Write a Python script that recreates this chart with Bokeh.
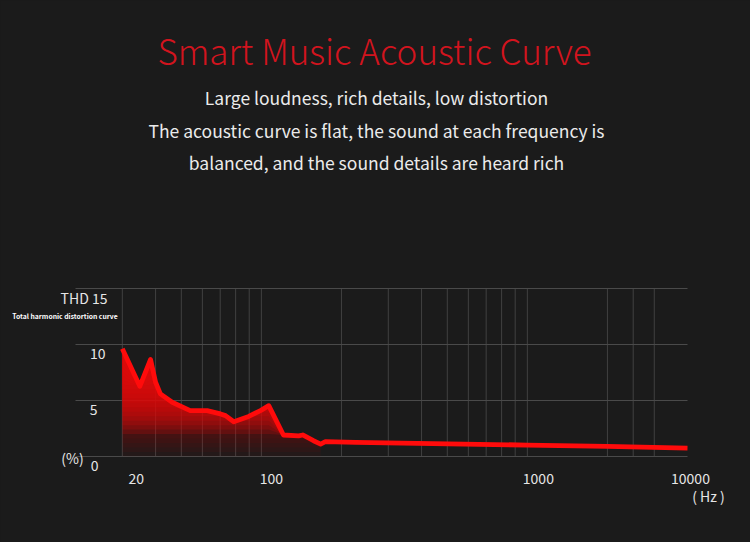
import numpy as np
from bokeh.plotting import figure
from bokeh.models import ColumnDataSource, LabelSet, Label, Range1d
from bokeh.core.properties import value
from bokeh.embed import file_html
from bokeh.resources import INLINE

# ---------------- data ----------------
freq_hz = [30, 34.9, 38.3, 40, 41.7, 46.2, 54, 62.5, 70.2, 73.3, 78.7, 89.6, 99.2,
           106.6, 121, 138, 143, 157, 167, 174, 226, 1000, 2000, 4000]
thd_pct = [9.62, 6.27, 8.66, 6.63, 5.59, 4.84, 4.1, 4.1, 3.8, 3.65, 3.1, 3.58, 4.1,
           4.54, 1.92, 1.85, 1.92, 1.41, 1.11, 1.32, 1.26, 1.02, 0.9, 0.75]

x_grid_hz = [30, 40, 50, 60, 70, 80, 90, 100, 200, 300, 400, 500, 600, 700, 800, 900,
             1000, 2000, 2500, 3000]
x_min_hz, x_max_hz = 20, 4000
y_min, y_max = 0, 15
x_tick_pos = [30, 100, 1000, 4000]
x_tick_labels = ["20", "100", "1000", "10000"]
y_tick_pos = [0, 5, 10, 15]
y_tick_labels = ["0", "5", "10", "THD 15"]

title_text = "Smart Music Acoustic Curve"
subtitle_lines = ["Large loudness, rich details, low distortion",
                  "The acoustic curve is flat, the sound at each frequency is",
                  "balanced, and the sound details are heard rich"]

# ---------------- layout / style ----------------
W, H = 750, 542
PLOT_L, PLOT_R, PLOT_T, PLOT_B = 75, 687, 288, 456   # plot area in page pixels
BG = "#1b1b1b"
GRID = "#4a4a4a"
RED_LINE = "#ff0b0b"
RED_FILL = "#e00808"
TXT = "#e6e6e6"
CJK = "'Noto Sans CJK SC'"
x_label_dx = [14, 10, 11, 3]      # horizontal nudges of the x tick labels (px)
y_label_dx = [23, 22, 30, 32]     # right-edge nudges of the y tick labels (px)

decade_px = (PLOT_R - PLOT_L) / np.log10(x_max_hz / x_min_hz)
unit_px = (PLOT_B - PLOT_T) / (y_max - y_min)
xr = Range1d(x_min_hz * 10 ** (-PLOT_L / decade_px), x_max_hz * 10 ** ((W - PLOT_R) / decade_px))
yr = Range1d(y_min - (H - PLOT_B) / unit_px, y_max + PLOT_T / unit_px)

p = figure(width=W, height=H, x_axis_type="log", x_range=xr, y_range=yr,
           output_backend="svg", toolbar_location=None,
           min_border=0, min_border_left=0, min_border_right=0,
           min_border_top=0, min_border_bottom=0,
           background_fill_color=BG, border_fill_color=BG,
           outline_line_color=None)
p.xaxis.visible = False
p.yaxis.visible = False
p.grid.visible = False

# grid lines
p.segment(x0=x_grid_hz, x1=x_grid_hz, y0=[y_min] * len(x_grid_hz), y1=[y_max] * len(x_grid_hz),
          line_color="#404040", line_width=1)
p.segment(x0=[x_min_hz] * 4, x1=[x_max_hz] * 4, y0=y_tick_pos, y1=y_tick_pos,
          line_color=GRID, line_width=1)

# gradient-like fill under the low-frequency part of the curve
hz = np.array(freq_hz, dtype=float)
thd = np.array(thd_pct, dtype=float)
mask = hz <= 170
fx, fy = hz[mask], thd[mask]
for h in np.arange(0.0, 9.7, 0.4):
    a = 0.05 if h < 2.0 else 0.2
    p.varea(x=fx, y1=np.minimum(h, fy), y2=fy, fill_color=RED_FILL, fill_alpha=a)

p.line(freq_hz, thd_pct, line_color=RED_LINE, line_width=4.8, line_join="round")

# x tick labels
xsrc = ColumnDataSource(dict(x=x_tick_pos, y=[y_min] * len(x_tick_pos), t=x_tick_labels,
                             dx=x_label_dx))
p.add_layout(LabelSet(x="x", y="y", text="t", source=xsrc, x_offset="dx", y_offset=-22,
                      text_align="center", text_baseline="middle",
                      text_color=TXT, text_font=value(CJK), text_font_size="14px"))
# y tick labels
ysrc = ColumnDataSource(dict(x=[x_min_hz] * len(y_tick_pos), y=y_tick_pos, t=y_tick_labels,
                             dx=y_label_dx))
p.add_layout(LabelSet(x="x", y="y", text="t", source=ysrc, x_offset="dx", y_offset=-9,
                      text_align="right", text_baseline="middle",
                      text_color=TXT, text_font=value(CJK), text_font_size="14px"))

def screen_label(text, px, py, size, color, font=CJK, style="normal", align="center"):
    p.add_layout(Label(x=px, y=H - py, x_units="screen", y_units="screen", text=text,
                       text_align=align, text_baseline="middle", text_color=color,
                       text_font=font, text_font_size=size, text_font_style=style))

screen_label("(%)", 72, 457, "14px", TXT)
screen_label("( Hz )", 708, 495, "14px", TXT)
screen_label("Total harmonic distortion curve", 64.5, 315, "6.8px", "#ffffff", style="bold")

screen_label(title_text, 374, 49, "35px", "#d2141e",
             font="'Noto Sans CJK SC Light', 'Noto Sans CJK SC'")
for line, py in zip(subtitle_lines, [97, 130, 161.5]):
    screen_label(line, 376, py, "17.5px", "#ebebeb")

html = file_html(p, INLINE)
html = html.replace("</head>", "<style>html,body{background:#1b1b1b;}</style></head>", 1)
open("out.html", "w").write(html)
